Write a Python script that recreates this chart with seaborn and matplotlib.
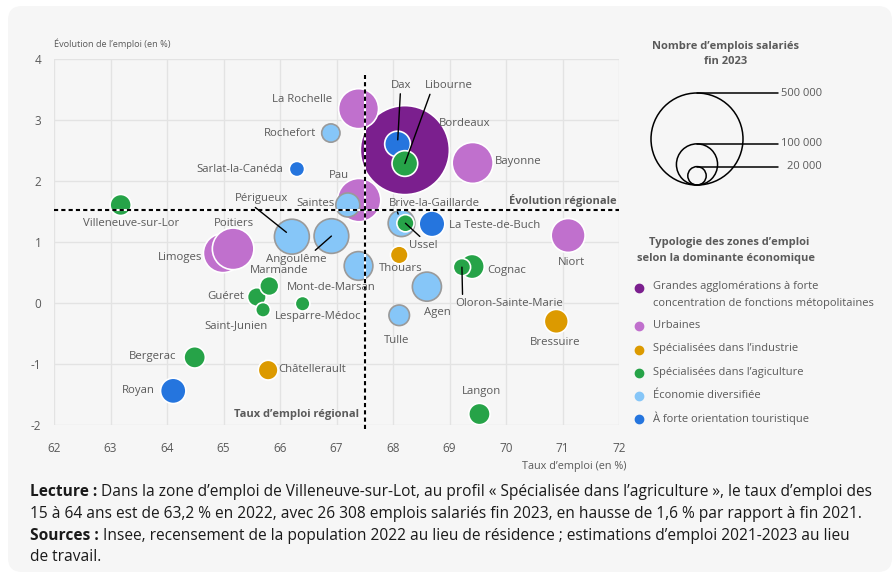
"""
Taux d'emploi et évolution de l'emploi par zone d'emploi (Nouvelle-Aquitaine)
Nuage de bulles : taille = nombre d'emplois salariés fin 2023
"""

import matplotlib
matplotlib.use("Agg")
import matplotlib.pyplot as plt
import numpy as np
import pandas as pd
import seaborn as sns
from matplotlib.patches import FancyBboxPatch

# ==================== Données ====================
# ordre = ordre de tracé (les grosses bulles d'abord)
zones = ["Bordeaux", "Pau", "Limoges", "Poitiers", "Bayonne", "La Rochelle",
         "Périgueux", "Angoulême", "Niort", "Agen", "Mont-de-Marsan",
         "Brive-la-Gaillarde", "Dax", "Libourne", "La Teste-de-Buch", "Royan",
         "Cognac", "Saintes", "Bressuire", "Bergerac", "Langon",
         "Villeneuve-sur-Lor", "Tulle", "Châtellerault", "Guéret", "Marmande",
         "Rochefort", "Thouars", "Ussel", "Oloron-Sainte-Marie",
         "Sarlat-la-Canéda", "Saint-Junien", "Lesparre-Médoc"]
taux = [68.21, 67.40, 64.99, 65.17, 69.41, 67.39,
        66.21, 66.91, 71.10, 68.60, 67.39,
        68.15, 68.08, 68.21, 68.69, 64.11,
        69.40, 67.20, 70.89, 64.49, 69.53,
        63.18, 68.11, 65.79, 65.59, 65.81,
        66.90, 68.11, 68.22, 69.22,
        66.30, 65.70, 66.40]
evolution = [2.51, 1.69, 0.82, 0.89, 2.30, 3.19,
             1.09, 1.10, 1.11, 0.27, 0.61,
             1.31, 2.61, 2.29, 1.30, -1.44,
             0.60, 1.61, -0.30, -0.89, -1.82,
             1.61, -0.20, -1.10, 0.10, 0.28,
             2.79, 0.79, 1.31, 0.59,
             2.20, -0.11, -0.01]
emplois = [468000, 111000, 90000, 102000, 99000, 94500,
           72000, 71000, 68000, 50000, 48600,
           42000, 39000, 39000, 39000, 38000,
           35000, 34000, 34000, 27000, 27000,
           26308, 25000, 23000, 20600, 21300,
           19800, 18500, 17500, 17700,
           13800, 12700, 12700]
types = ["metro", "urb", "urb", "urb", "urb", "urb",
         "div", "div", "urb", "div", "div",
         "div", "tour", "agri", "tour", "tour",
         "agri", "div", "ind", "agri", "agri",
         "agri", "div", "ind", "agri", "agri",
         "div", "ind", "agri", "agri",
         "tour", "agri", "agri"]

type_codes = ["metro", "urb", "ind", "agri", "div", "tour"]
type_labels = [["Grandes agglomérations à forte", "concentration de fonctions métopolitaines"],
               ["Urbaines"], ["Spécialisées dans l’industrie"],
               ["Spécialisées dans l’agiculture"], ["Économie diversifiée"],
               ["À forte orientation touristique"]]
type_colors = ["#7b1f8e", "#c070cd", "#dc9a00", "#26a348", "#86c6f8", "#2575de"]

taux_regional = 67.5
evolution_regionale = 1.53

legende_tailles = [500000, 100000, 20000]
legende_libelles = ["500 000", "100 000", "20 000"]

x_ticks = list(range(62, 73))
y_ticks = list(range(-2, 5))

# décalage des étiquettes (pixels, vers la droite / vers le haut) et traits de rappel
label_offsets = {
    "La Rochelle": (-56, 9), "Rochefort": (-41, 0), "Sarlat-la-Canéda": (-57, 0),
    "Pau": (-20, 25), "Villeneuve-sur-Lor": (10, -19), "Périgueux": (-30, 38),
    "Saintes": (-32, 1), "Poitiers": (1, 25), "Limoges": (-43, -4),
    "Angoulême": (-35, -23), "Marmande": (10, 16), "Guéret": (-31, 1),
    "Saint-Junien": (-27, -16), "Lesparre-Médoc": (16, -13),
    "Mont-de-Marsan": (-27, -22), "Bergerac": (-42, 1), "Châtellerault": (44, 1),
    "Royan": (-35, 0), "Dax": (4, 59), "Libourne": (44, 78), "Bordeaux": (60, 27),
    "Bayonne": (46, 1), "Brive-la-Gaillarde": (33, 20), "Ussel": (18, -22),
    "La Teste-de-Buch": (63, -2), "Niort": (3, -27), "Thouars": (2, -14),
    "Cognac": (35, -4), "Oloron-Sainte-Marie": (47, -36), "Agen": (10, -26),
    "Tulle": (-3, -25), "Bressuire": (-1, -21), "Langon": (2, 23),
}
leaders = {  # relpos du départ du trait sur l'étiquette, retrait côté bulle (pt)
    "Périgueux": ((0.3, 0), 5), "Angoulême": ((0.75, 1), 0), "Dax": ((0.45, 0), 3),
    "Libourne": ((0.13, 0), 0), "Brive-la-Gaillarde": ((0.08, 0), 7),
    "Ussel": ((0.5, 1), 0), "Oloron-Sainte-Marie": ((0.07, 1), 0),
}

# ==================== Style ====================
sns.set_theme(style="white")
plt.rcParams['font.family'] = ['Open Sans', 'DejaVu Sans']
plt.rcParams['axes.unicode_minus'] = False
FOND = "#f6f6f6"
GRIS = "#5a5a5a"
S_MAX = (92 * 0.72) ** 2  # aire (pt²) d'une bulle de 500 000 emplois

fig = plt.figure(figsize=(8.95, 5.78), dpi=100)
fig.patch.set_facecolor("white")

# fond arrondi + légendes en coordonnées pixels
ax_bg = fig.add_axes([0, 0, 1, 1], zorder=0)
ax_bg.set_xlim(0, 895)
ax_bg.set_ylim(578, 0)
ax_bg.axis("off")
ax_bg.add_patch(FancyBboxPatch((8, 6), 884, 566, boxstyle="round,pad=0,rounding_size=14",
                               fc=FOND, ec="none"))

ax = fig.add_axes([54 / 895, (578 - 425) / 578, 565 / 895, (425 - 59.3) / 578], zorder=1)
ax.set_facecolor("none")

# ==================== Bulles ====================
df = pd.DataFrame({"zone": zones, "taux": taux, "evolution": evolution,
                   "emplois": emplois, "type": types})
palette = dict(zip(type_codes, type_colors))
edges = ["#9a9a9a" if t == "div" else "white" for t in types]

sns.scatterplot(data=df, x="taux", y="evolution", hue="type", hue_order=type_codes,
                palette=palette, size="emplois", sizes=(0, S_MAX), size_norm=(0, 500000),
                edgecolor=edges, linewidth=1.2, legend=False, ax=ax, zorder=3)

# ==================== Repères régionaux ====================
for col, lw in [("white", 1.5), ("black", 1.5)]:
    ls = "-" if col == "white" else (0, (2, 1.5))
    ax.axhline(evolution_regionale, color=col, lw=lw, ls=ls, zorder=4)
    ax.axvline(taux_regional, ymin=-0.012, ymax=0.957, color=col, lw=lw, ls=ls,
               zorder=4, clip_on=False)

ax.annotate("Évolution régionale", xy=(1, evolution_regionale),
            xycoords=ax.get_yaxis_transform(), xytext=(-2, 3), textcoords="offset pixels",
            ha="right", va="bottom", fontsize=8, fontweight="bold", color=GRIS, zorder=5)
ax.annotate("Taux d’emploi régional", xy=(taux_regional, 0),
            xycoords=ax.get_xaxis_transform(), xytext=(-6, 11), textcoords="offset pixels",
            ha="right", va="center", fontsize=8, fontweight="bold", color=GRIS, zorder=5)

# ==================== Étiquettes ====================
for z, x, y in zip(zones, taux, evolution):
    dx, dy = label_offsets[z]
    kw = {}
    if z in leaders:
        relpos, shrink = leaders[z]
        kw["arrowprops"] = dict(arrowstyle="-", color="black", lw=1, relpos=relpos,
                                shrinkA=0, shrinkB=shrink)
    ax.annotate(z, xy=(x, y), xytext=(dx, dy), textcoords="offset pixels",
                ha="center", va="center", fontsize=8.2, color=GRIS, zorder=6, **kw)

# ==================== Axes ====================
ax.set_xlim(62, 72)
ax.set_ylim(-2, 4)
ax.set_xticks(x_ticks)
ax.set_yticks(y_ticks)
ax.set_xlabel("")
ax.set_ylabel("")
ax.grid(True, color="#e3e3e3", lw=1)
ax.set_axisbelow(True)
for s in ax.spines.values():
    s.set_visible(False)
ax.tick_params(axis="x", length=4, width=1, color="#e3e3e3", pad=8,
               labelsize=8.5, labelcolor=GRIS)
ax.tick_params(axis="y", length=0, pad=9, labelsize=8.5, labelcolor=GRIS)

ax_bg.text(54, 44, "Évolution de l’emploi (en %)", ha="left", va="center",
           fontsize=6.6, color=GRIS)
ax_bg.text(627, 466, "Taux d’emploi (en %)", ha="right", va="center",
           fontsize=7.8, color=GRIS)

# ==================== Légende des tailles ====================
ax_bg.text(726, 46, "Nombre d’emplois salariés", ha="center", va="center",
           fontsize=8, fontweight="bold", color=GRIS)
ax_bg.text(726, 62, "fin 2023", ha="center", va="center",
           fontsize=8, fontweight="bold", color=GRIS)
tailles = np.array(legende_tailles) / 500000 * S_MAX
diam = np.sqrt(tailles) / 0.72
base = 185
ax_bg.scatter([697] * len(tailles), base - diam / 2, s=tailles, facecolors="none",
              edgecolors="black", linewidths=1.1, zorder=3)
for d, lib in zip(diam, legende_libelles):
    ax_bg.plot([697, 778], [base - d, base - d], color="black", lw=1.1)
    ax_bg.text(822, base - d, lib, ha="right", va="center", fontsize=8, color=GRIS)

# ==================== Légende des types ====================
ax_bg.text(729, 243, "Typologie des zones d’emploi", ha="center", va="center",
           fontsize=8, fontweight="bold", color=GRIS)
ax_bg.text(726, 259, "selon la dominante économique", ha="center", va="center",
           fontsize=8, fontweight="bold", color=GRIS)
row_y = [288, 326, 350, 373, 396, 419]
for yy, col, lines in zip(row_y, type_colors, type_labels):
    ax_bg.scatter([639], [yy], s=36, color=col, zorder=3)
    for i, line in enumerate(lines):
        ax_bg.text(653, yy - 1 + 16.5 * i, line, ha="left", va="center",
                   fontsize=8, color=GRIS)

# ==================== Note de lecture ====================
NOIR = "#1a1a1a"
FS = 11.2
t1 = ax_bg.text(30, 492, "Lecture :", ha="left", va="center", fontsize=FS,
                fontweight="bold", color=NOIR)
ax_bg.annotate(" Dans la zone d’emploi de Villeneuve-sur-Lot, au profil « Spécialisée dans "
               "l’agriculture », le taux d’emploi des", xy=(1, 0.5), xycoords=t1,
               ha="left", va="center", fontsize=FS, color=NOIR)
ax_bg.text(30, 514, "15 à 64 ans est de 63,2 % en 2022, avec 26 308 emplois salariés fin 2023, "
           "en hausse de 1,6 % par rapport à fin 2021.", ha="left", va="center",
           fontsize=FS, color=NOIR)
t3 = ax_bg.text(30, 536, "Sources :", ha="left", va="center", fontsize=FS,
                fontweight="bold", color=NOIR)
ax_bg.annotate(" Insee, recensement de la population 2022 au lieu de résidence ; estimations "
               "d’emploi 2021-2023 au lieu", xy=(1, 0.5), xycoords=t3,
               ha="left", va="center", fontsize=FS, color=NOIR)
ax_bg.text(30, 557, "de travail.", ha="left", va="center", fontsize=FS, color=NOIR)

plt.savefig("out.png", dpi=100, facecolor=fig.get_facecolor())
